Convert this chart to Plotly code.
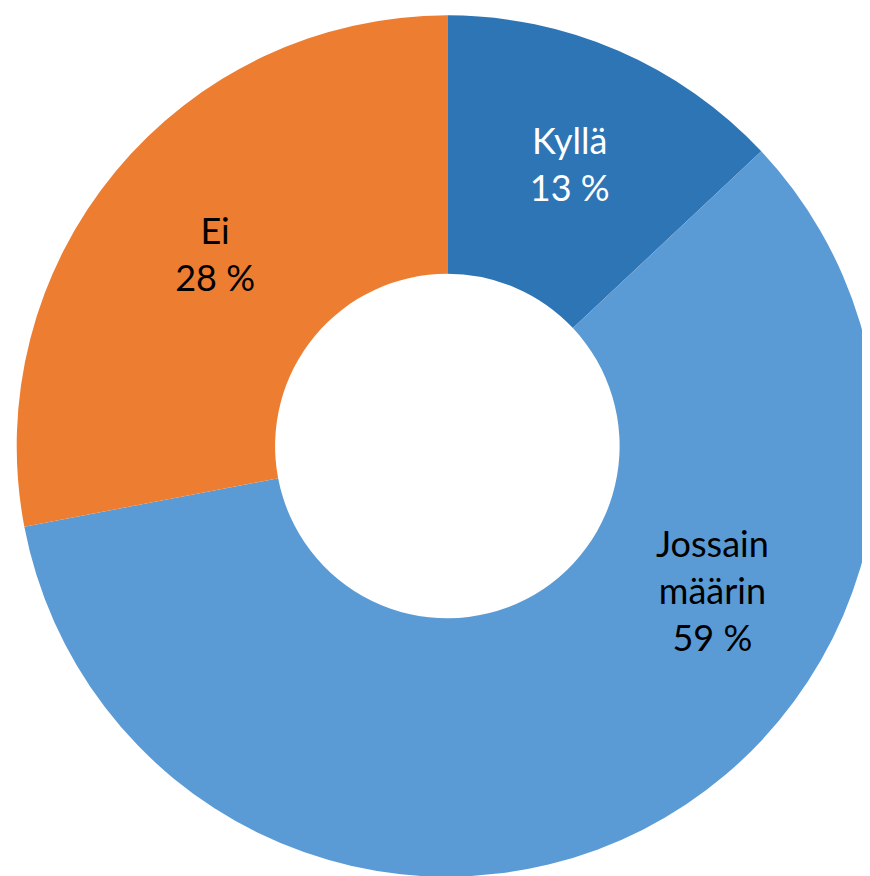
import plotly.graph_objects as go

labels = ["Kyllä", "Jossain määrin", "Ei"]
values = [13, 59, 28]
colors = ["#2E75B6", "#5B9BD5", "#ED7D31"]
slice_text = ["Kyllä<br>13 %", "", "Ei<br>28 %"]
text_colors = ["white", "black", "black"]

FONT = "Lato, Carlito, sans-serif"

fig = go.Figure(go.Pie(
    labels=labels,
    values=values,
    sort=False,
    direction="clockwise",
    rotation=0,
    hole=0.4,
    marker=dict(colors=colors, line=dict(color="white", width=0)),
    text=slice_text,
    textinfo="text",
    textposition="inside",
    insidetextorientation="horizontal",
    insidetextfont=dict(family=FONT, size=36, color=text_colors),
    showlegend=False,
    hoverinfo="label+percent",
    domain=dict(x=[0.01, 1], y=[0, 1]),
))

fig.add_annotation(
    x=0.81, y=0.336, xref="paper", yref="paper",
    xanchor="center", yanchor="middle",
    text=f"Jossain<br>määrin<br>{values[1]} %",
    showarrow=False,
    font=dict(family=FONT, size=36, color="black"),
    align="center",
)

fig.update_layout(
    width=870, height=876,
    margin=dict(l=0, r=0, t=0, b=0),
    paper_bgcolor="white",
    plot_bgcolor="white",
)

fig.write_html("out.html")
